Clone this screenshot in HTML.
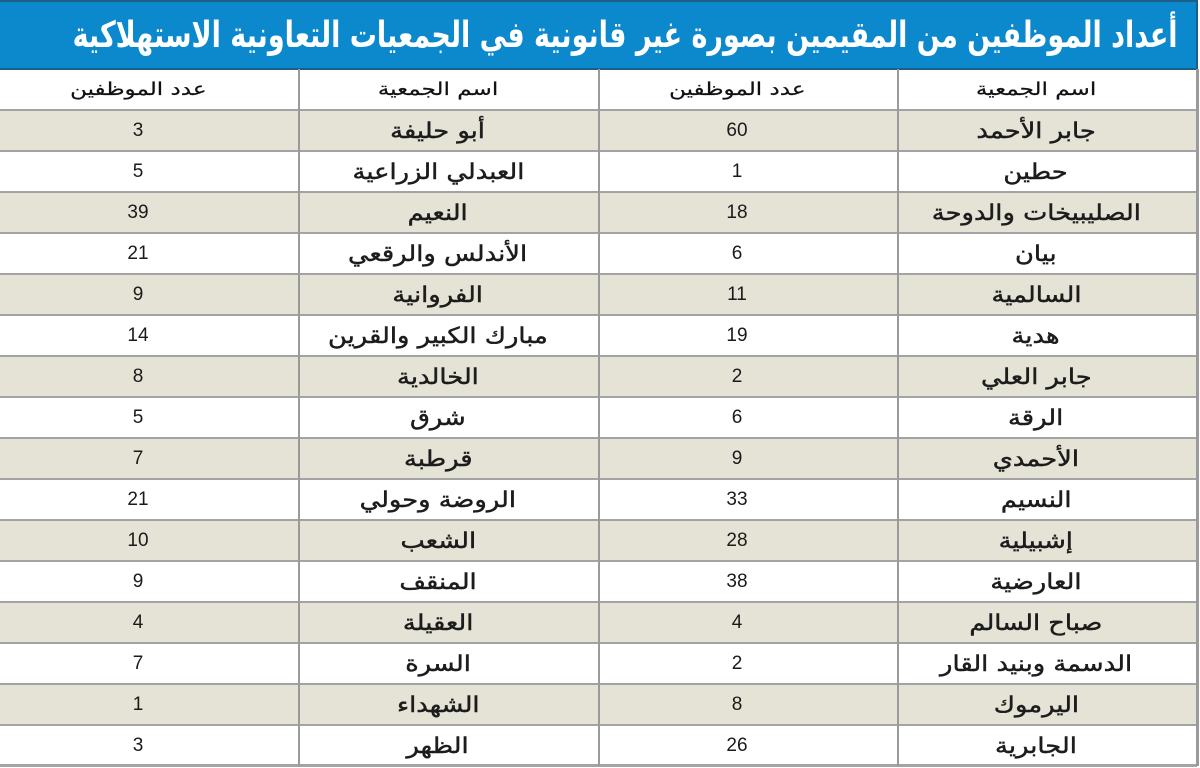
<!DOCTYPE html>
<html lang="ar">
<head>
<meta charset="utf-8">
<style>
  html,body{margin:0;padding:0;background:#fff;}
  body{width:1200px;height:767px;position:relative;overflow:hidden;
       font-family:"DejaVu Sans","Liberation Sans",sans-serif;color:#1a1a1a;}
  .title{position:absolute;left:0;top:0;width:1196px;height:66px;background:#0b89cc;
         border-top:2px solid #1d5f86;border-bottom:2px solid #1d5f86;border-right:2px solid #1d5f86;overflow:hidden;}
  #tt{position:absolute;right:18px;top:1px;height:66px;line-height:66px;color:#fff;font-weight:bold;font-size:36px;
      white-space:nowrap;direction:rtl;transform-origin:right center;transform:scaleX(0.73);}
  .row{position:absolute;left:0;width:1197px;height:41px;}
  .row.s{background:#e5e3d6;}
  .hl{position:absolute;left:0;width:1197px;height:2px;background:#a3a3a3;}
  .vl{position:absolute;top:69px;width:2px;height:697px;background:#9a9a9a;}
  .c{position:absolute;top:0;height:41px;line-height:41px;width:300px;text-align:center;direction:rtl;white-space:nowrap;}
  .c span{display:inline-block;transform-origin:center center;}
  .a{left:886px;} .b{left:587px;} .cc{left:288px;} .d{left:-12px;}
  .n{top:1px;}
  .n span{font-size:22px;transform:scaleX(1.17);color:#1c1c1c;-webkit-text-stroke:0.45px #1c1c1c;}
  .v span{font-size:19px;font-family:"Liberation Sans",sans-serif;}
  .h span{font-size:18px;transform:scaleX(1.28);color:#111;-webkit-text-stroke:0.2px #111;}
</style>
</head>
<body>
<div class="title"><span id="tt">أعداد الموظفين من المقيمين بصورة غير قانونية في الجمعيات التعاونية الاستهلاكية</span></div>

<div class="row" style="top:69px;">
  <div class="c h a"><span>اسم الجمعية</span></div>
  <div class="c h b"><span>عدد الموظفين</span></div>
  <div class="c h cc"><span>اسم الجمعية</span></div>
  <div class="c h d"><span>عدد الموظفين</span></div>
</div>

<div class="row s" style="top:110px;"><div class="c n a"><span>جابر الأحمد</span></div><div class="c v b"><span>60</span></div><div class="c n cc"><span>أبو حليفة</span></div><div class="c v d"><span>3</span></div></div>
<div class="row" style="top:151px;"><div class="c n a"><span>حطين</span></div><div class="c v b"><span>1</span></div><div class="c n cc"><span>العبدلي الزراعية</span></div><div class="c v d"><span>5</span></div></div>
<div class="row s" style="top:192px;"><div class="c n a"><span>الصليبيخات والدوحة</span></div><div class="c v b"><span>18</span></div><div class="c n cc"><span>النعيم</span></div><div class="c v d"><span>39</span></div></div>
<div class="row" style="top:233px;"><div class="c n a"><span>بيان</span></div><div class="c v b"><span>6</span></div><div class="c n cc"><span>الأندلس والرقعي</span></div><div class="c v d"><span>21</span></div></div>
<div class="row s" style="top:274px;"><div class="c n a"><span>السالمية</span></div><div class="c v b"><span>11</span></div><div class="c n cc"><span>الفروانية</span></div><div class="c v d"><span>9</span></div></div>
<div class="row" style="top:315px;"><div class="c n a"><span>هدية</span></div><div class="c v b"><span>19</span></div><div class="c n cc"><span>مبارك الكبير والقرين</span></div><div class="c v d"><span>14</span></div></div>
<div class="row s" style="top:356px;"><div class="c n a"><span>جابر العلي</span></div><div class="c v b"><span>2</span></div><div class="c n cc"><span>الخالدية</span></div><div class="c v d"><span>8</span></div></div>
<div class="row" style="top:397px;"><div class="c n a"><span>الرقة</span></div><div class="c v b"><span>6</span></div><div class="c n cc"><span>شرق</span></div><div class="c v d"><span>5</span></div></div>
<div class="row s" style="top:438px;"><div class="c n a"><span>الأحمدي</span></div><div class="c v b"><span>9</span></div><div class="c n cc"><span>قرطبة</span></div><div class="c v d"><span>7</span></div></div>
<div class="row" style="top:479px;"><div class="c n a"><span>النسيم</span></div><div class="c v b"><span>33</span></div><div class="c n cc"><span>الروضة وحولي</span></div><div class="c v d"><span>21</span></div></div>
<div class="row s" style="top:520px;"><div class="c n a"><span>إشبيلية</span></div><div class="c v b"><span>28</span></div><div class="c n cc"><span>الشعب</span></div><div class="c v d"><span>10</span></div></div>
<div class="row" style="top:561px;"><div class="c n a"><span>العارضية</span></div><div class="c v b"><span>38</span></div><div class="c n cc"><span>المنقف</span></div><div class="c v d"><span>9</span></div></div>
<div class="row s" style="top:602px;"><div class="c n a"><span>صباح السالم</span></div><div class="c v b"><span>4</span></div><div class="c n cc"><span>العقيلة</span></div><div class="c v d"><span>4</span></div></div>
<div class="row" style="top:643px;"><div class="c n a"><span>الدسمة وبنيد القار</span></div><div class="c v b"><span>2</span></div><div class="c n cc"><span>السرة</span></div><div class="c v d"><span>7</span></div></div>
<div class="row s" style="top:684px;"><div class="c n a"><span>اليرموك</span></div><div class="c v b"><span>8</span></div><div class="c n cc"><span>الشهداء</span></div><div class="c v d"><span>1</span></div></div>
<div class="row" style="top:725px;"><div class="c n a"><span>الجابرية</span></div><div class="c v b"><span>26</span></div><div class="c n cc"><span>الظهر</span></div><div class="c v d"><span>3</span></div></div>

<!-- horizontal lines -->
<div class="hl" style="top:109px;"></div>
<div class="hl" style="top:150px;"></div>
<div class="hl" style="top:191px;"></div>
<div class="hl" style="top:232px;"></div>
<div class="hl" style="top:273px;"></div>
<div class="hl" style="top:314px;"></div>
<div class="hl" style="top:355px;"></div>
<div class="hl" style="top:396px;"></div>
<div class="hl" style="top:437px;"></div>
<div class="hl" style="top:478px;"></div>
<div class="hl" style="top:519px;"></div>
<div class="hl" style="top:560px;"></div>
<div class="hl" style="top:601px;"></div>
<div class="hl" style="top:642px;"></div>
<div class="hl" style="top:683px;"></div>
<div class="hl" style="top:724px;"></div>
<div class="hl" style="top:764px;height:3px;"></div>

<!-- vertical lines -->
<div class="vl" style="left:298px;"></div>
<div class="vl" style="left:598px;"></div>
<div class="vl" style="left:897px;"></div>
<div class="vl" style="left:1196px;width:3px;"></div>

<script>
(function(){
  var t=document.getElementById('tt');
  t.style.transform='none';
  var w=t.getBoundingClientRect().width;
  if(w>0){ t.style.transform='scaleX('+(1105/w)+')'; }
  else { t.style.transform='scaleX(0.73)'; }
})();
</script>
</body>
</html>
